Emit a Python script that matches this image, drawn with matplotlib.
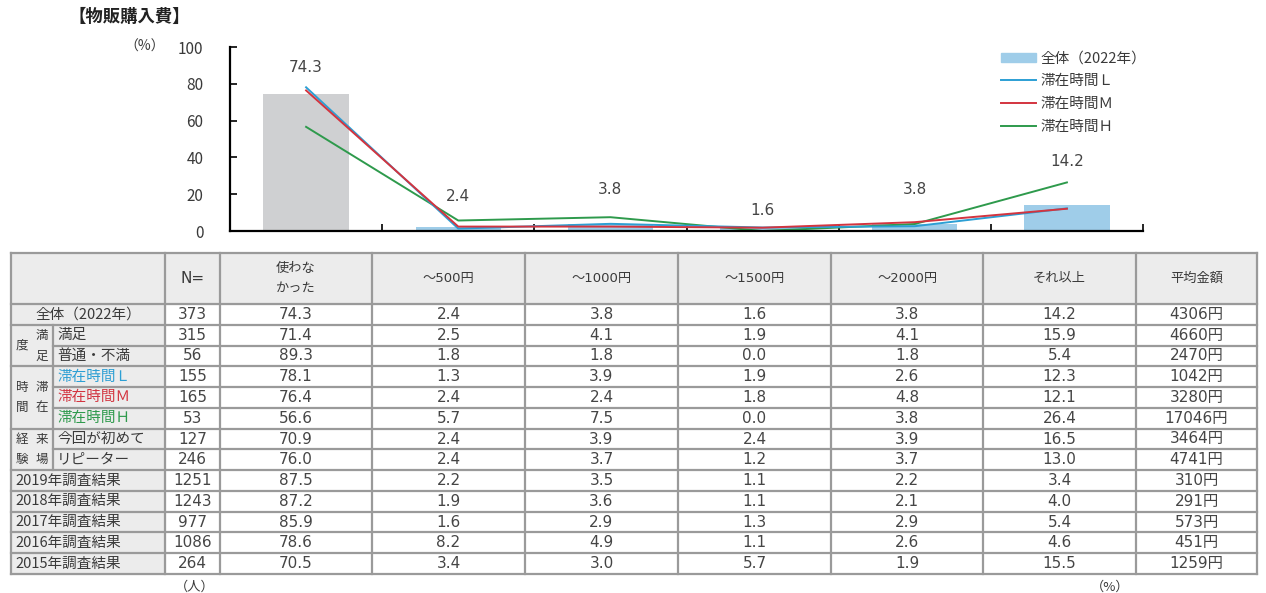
import matplotlib
matplotlib.use("Agg")
import matplotlib.pyplot as plt
import numpy as np
from matplotlib.patches import Patch
from matplotlib.lines import Line2D

plt.rcParams['font.family'] = ['Noto Sans CJK JP', 'DejaVu Sans']
NUM_FONT = ['DejaVu Sans', 'Noto Sans CJK JP']

# ---- data ----
categories = ['使わな\nかった', '～500円', '～1000円', '～1500円', '～2000円', 'それ以上']
total_2022 = [74.3, 2.4, 3.8, 1.6, 3.8, 14.2]
stay_L = [78.1, 1.3, 3.9, 1.9, 2.6, 12.3]
stay_M = [76.4, 2.4, 2.4, 1.8, 4.8, 12.1]
stay_H = [56.6, 5.7, 7.5, 0.0, 3.8, 26.4]

row_labels = ['全体（2022年）', '満足', '普通・不満', '滞在時間Ｌ', '滞在時間Ｍ', '滞在時間Ｈ',
              '今回が初めて', 'リピーター', '2019年調査結果', '2018年調査結果',
              '2017年調査結果', '2016年調査結果', '2015年調査結果']
n_values = [373, 315, 56, 155, 165, 53, 127, 246, 1251, 1243, 977, 1086, 264]
table_values = [
    [74.3, 2.4, 3.8, 1.6, 3.8, 14.2],
    [71.4, 2.5, 4.1, 1.9, 4.1, 15.9],
    [89.3, 1.8, 1.8, 0.0, 1.8, 5.4],
    [78.1, 1.3, 3.9, 1.9, 2.6, 12.3],
    [76.4, 2.4, 2.4, 1.8, 4.8, 12.1],
    [56.6, 5.7, 7.5, 0.0, 3.8, 26.4],
    [70.9, 2.4, 3.9, 2.4, 3.9, 16.5],
    [76.0, 2.4, 3.7, 1.2, 3.7, 13.0],
    [87.5, 2.2, 3.5, 1.1, 2.2, 3.4],
    [87.2, 1.9, 3.6, 1.1, 2.1, 4.0],
    [85.9, 1.6, 2.9, 1.3, 2.9, 5.4],
    [78.6, 8.2, 4.9, 1.1, 2.6, 4.6],
    [70.5, 3.4, 3.0, 5.7, 1.9, 15.5],
]
avg_amount = [4306, 4660, 2470, 1042, 3280, 17046, 3464, 4741, 310, 291, 573, 451, 1259]

C_GREY = '#cfd0d2'
C_BAR = '#9fcde9'
C_L = '#2c9fd4'
C_M = '#d3343f'
C_H = '#2e9a4c'
TXT = '#3a3a3a'
NUM_C = '#454545'

W, H = 1266, 593
fig = plt.figure(figsize=(W / 100, H / 100), dpi=100)

# ---- chart ----
ax = fig.add_axes([230 / W, 1 - 231 / H, (1143 - 230) / W, (231 - 47) / H])
x = np.arange(len(categories))
bar_colors = [C_GREY] + [C_BAR] * (len(categories) - 1)
ax.bar(x, total_2022, width=0.56, color=bar_colors, zorder=1)
ax.plot(x, stay_L, color=C_L, lw=1.4, zorder=3)
ax.plot(x, stay_M, color=C_M, lw=1.4, zorder=4)
ax.plot(x, stay_H, color=C_H, lw=1.4, zorder=2)

label_offsets = [19, 22, 25, 13, 25, 31]
for xi, v, off in zip(x, total_2022, label_offsets):
    ax.annotate(f'{v:.1f}', (xi, v), xytext=(0, off), textcoords='offset points',
                ha='center', va='center', fontsize=11, color=NUM_C, family=NUM_FONT)

ax.set_xlim(-0.5, len(categories) - 0.5)
ax.set_ylim(0, 100)
ax.set_yticks([0, 20, 40, 60, 80, 100])
ax.set_xticks(np.arange(len(categories)) + 0.5)
ax.set_xticklabels([])
ax.tick_params(axis='y', direction='in', length=5, width=1.2, labelsize=11,
               labelcolor=TXT, pad=19)
ax.tick_params(axis='x', direction='in', length=5, width=1.2)
for s in ['top', 'right']:
    ax.spines[s].set_visible(False)
for s in ['left', 'bottom']:
    ax.spines[s].set_linewidth(1.6)

handles = [Patch(color=C_BAR), Line2D([], [], color=C_L, lw=1.4),
           Line2D([], [], color=C_M, lw=1.4), Line2D([], [], color=C_H, lw=1.4)]
labels = ['全体（2022年）', '滞在時間Ｌ', '滞在時間Ｍ', '滞在時間Ｈ']
leg = fig.legend(handles, labels, loc='upper left', bbox_to_anchor=(994 / W, 1 - 44 / H),
                 frameon=False, fontsize=10.5, handlelength=2.4, handleheight=0.6,
                 labelspacing=0.6, handletextpad=0.3, borderpad=0)
for t in leg.get_texts():
    t.set_color(TXT)

fig.text(68 / W, 1 - 17 / H, '【物販購入費】', fontsize=12.5, fontweight='bold',
         color='#222222', va='center')
fig.text(145 / W, 1 - 47 / H, '（%）', fontsize=10, color=TXT, va='center', ha='center')

# ---- table ----
tx = fig.add_axes([0, 0, 1, 1])
tx.set_xlim(0, W)
tx.set_ylim(H, 0)
tx.axis('off')

col_edges = [11, 165, 220, 372, 525, 678, 831, 983, 1136, 1257]
grp_x = 53
top, head_bot, bottom = 253, 304, 574
n_rows = len(row_labels)
rh = (bottom - head_bot) / n_rows
row_top = [head_bot + i * rh for i in range(n_rows + 1)]
HEAD_BG = '#ececec'
LINE_C = '#9a9a9a'
LW = 1.6

# backgrounds
tx.add_patch(plt.Rectangle((col_edges[0], top), col_edges[-1] - col_edges[0],
                           head_bot - top, color=HEAD_BG, zorder=0))
tx.add_patch(plt.Rectangle((col_edges[0], head_bot), col_edges[1] - col_edges[0],
                           bottom - head_bot, color=HEAD_BG, zorder=0))

# grid lines
for xe in col_edges:
    tx.plot([xe, xe], [top, bottom], color=LINE_C, lw=LW, solid_capstyle='projecting')
tx.plot([col_edges[0], col_edges[-1]], [top, top], color=LINE_C, lw=LW)
tx.plot([col_edges[0], col_edges[-1]], [head_bot, head_bot], color=LINE_C, lw=LW)
groups = [(1, 3, ['満足', '度']), (3, 6, ['滞在', '時間']), (6, 8, ['来場', '経験'])]
group_rows = set()
for g0, g1, _ in groups:
    group_rows.update(range(g0 + 1, g1))
for i in range(1, n_rows + 1):
    x0 = grp_x if i in group_rows else col_edges[0]
    tx.plot([x0, col_edges[-1]], [row_top[i], row_top[i]], color=LINE_C, lw=LW)
for g0, g1, _ in groups:
    tx.plot([grp_x, grp_x], [row_top[g0], row_top[g1]], color=LINE_C, lw=LW)

# header text
centers = [(col_edges[i] + col_edges[i + 1]) / 2 for i in range(len(col_edges) - 1)]
hy = (top + head_bot) / 2
tx.text(centers[1], hy, 'N=', ha='center', va='center', fontsize=11, color=TXT,
        family=NUM_FONT)
for i, c in enumerate(categories):
    tx.text(centers[2 + i], hy, c, ha='center', va='center', fontsize=9.5,
            color=TXT, linespacing=1.7, multialignment='left', family=NUM_FONT)
tx.text(centers[8], hy, '平均金額', ha='center', va='center', fontsize=9.5, color=TXT)

# row text
label_colors = {3: C_L, 4: C_M, 5: C_H}
for i, lab in enumerate(row_labels):
    yc = (row_top[i] + row_top[i + 1]) / 2
    if i == 0:
        tx.text(centers[0], yc, lab, ha='center', va='center', fontsize=10.5, color=TXT)
    elif i in range(1, 8):
        tx.text(grp_x + 4, yc, lab, ha='left', va='center', fontsize=10.5,
                color=label_colors.get(i, TXT))
    else:
        tx.text(col_edges[0] + 4, yc, lab, ha='left', va='center', fontsize=10.5, color=TXT)
    tx.text(centers[1], yc, str(n_values[i]), ha='center', va='center', fontsize=11,
            color=NUM_C, family=NUM_FONT)
    for j, v in enumerate(table_values[i]):
        tx.text(centers[2 + j], yc, f'{v:.1f}', ha='center', va='center',
                fontsize=11, color=NUM_C, family=NUM_FONT)
    tx.text(centers[8], yc, f'{avg_amount[i]}円', ha='center', va='center',
            fontsize=11, color=NUM_C, family=NUM_FONT)

# vertical group labels (right column first, as in vertical writing)
for g0, g1, (right, left) in groups:
    y0, y1 = row_top[g0], row_top[g1]
    xr, xl = 42, 22
    for k, ch in enumerate(right):
        yc = y0 + (y1 - y0) * (k + 0.5) / len(right) if len(right) == g1 - g0 else \
            (y0 + y1) / 2 + (k - (len(right) - 1) / 2) * 20
        tx.text(xr, yc, ch, ha='center', va='center', fontsize=9, color=TXT)
    for k, ch in enumerate(left):
        yc = (y0 + y1) / 2 + (k - (len(left) - 1) / 2) * 20
        tx.text(xl, yc, ch, ha='center', va='center', fontsize=9, color=TXT)

tx.text(195, 587, '（人）', ha='center', va='center', fontsize=9.5, color=TXT)
tx.text(1110, 587, '（%）', ha='center', va='center', fontsize=9.5, color=TXT)

fig.savefig('out.png', dpi=100)
